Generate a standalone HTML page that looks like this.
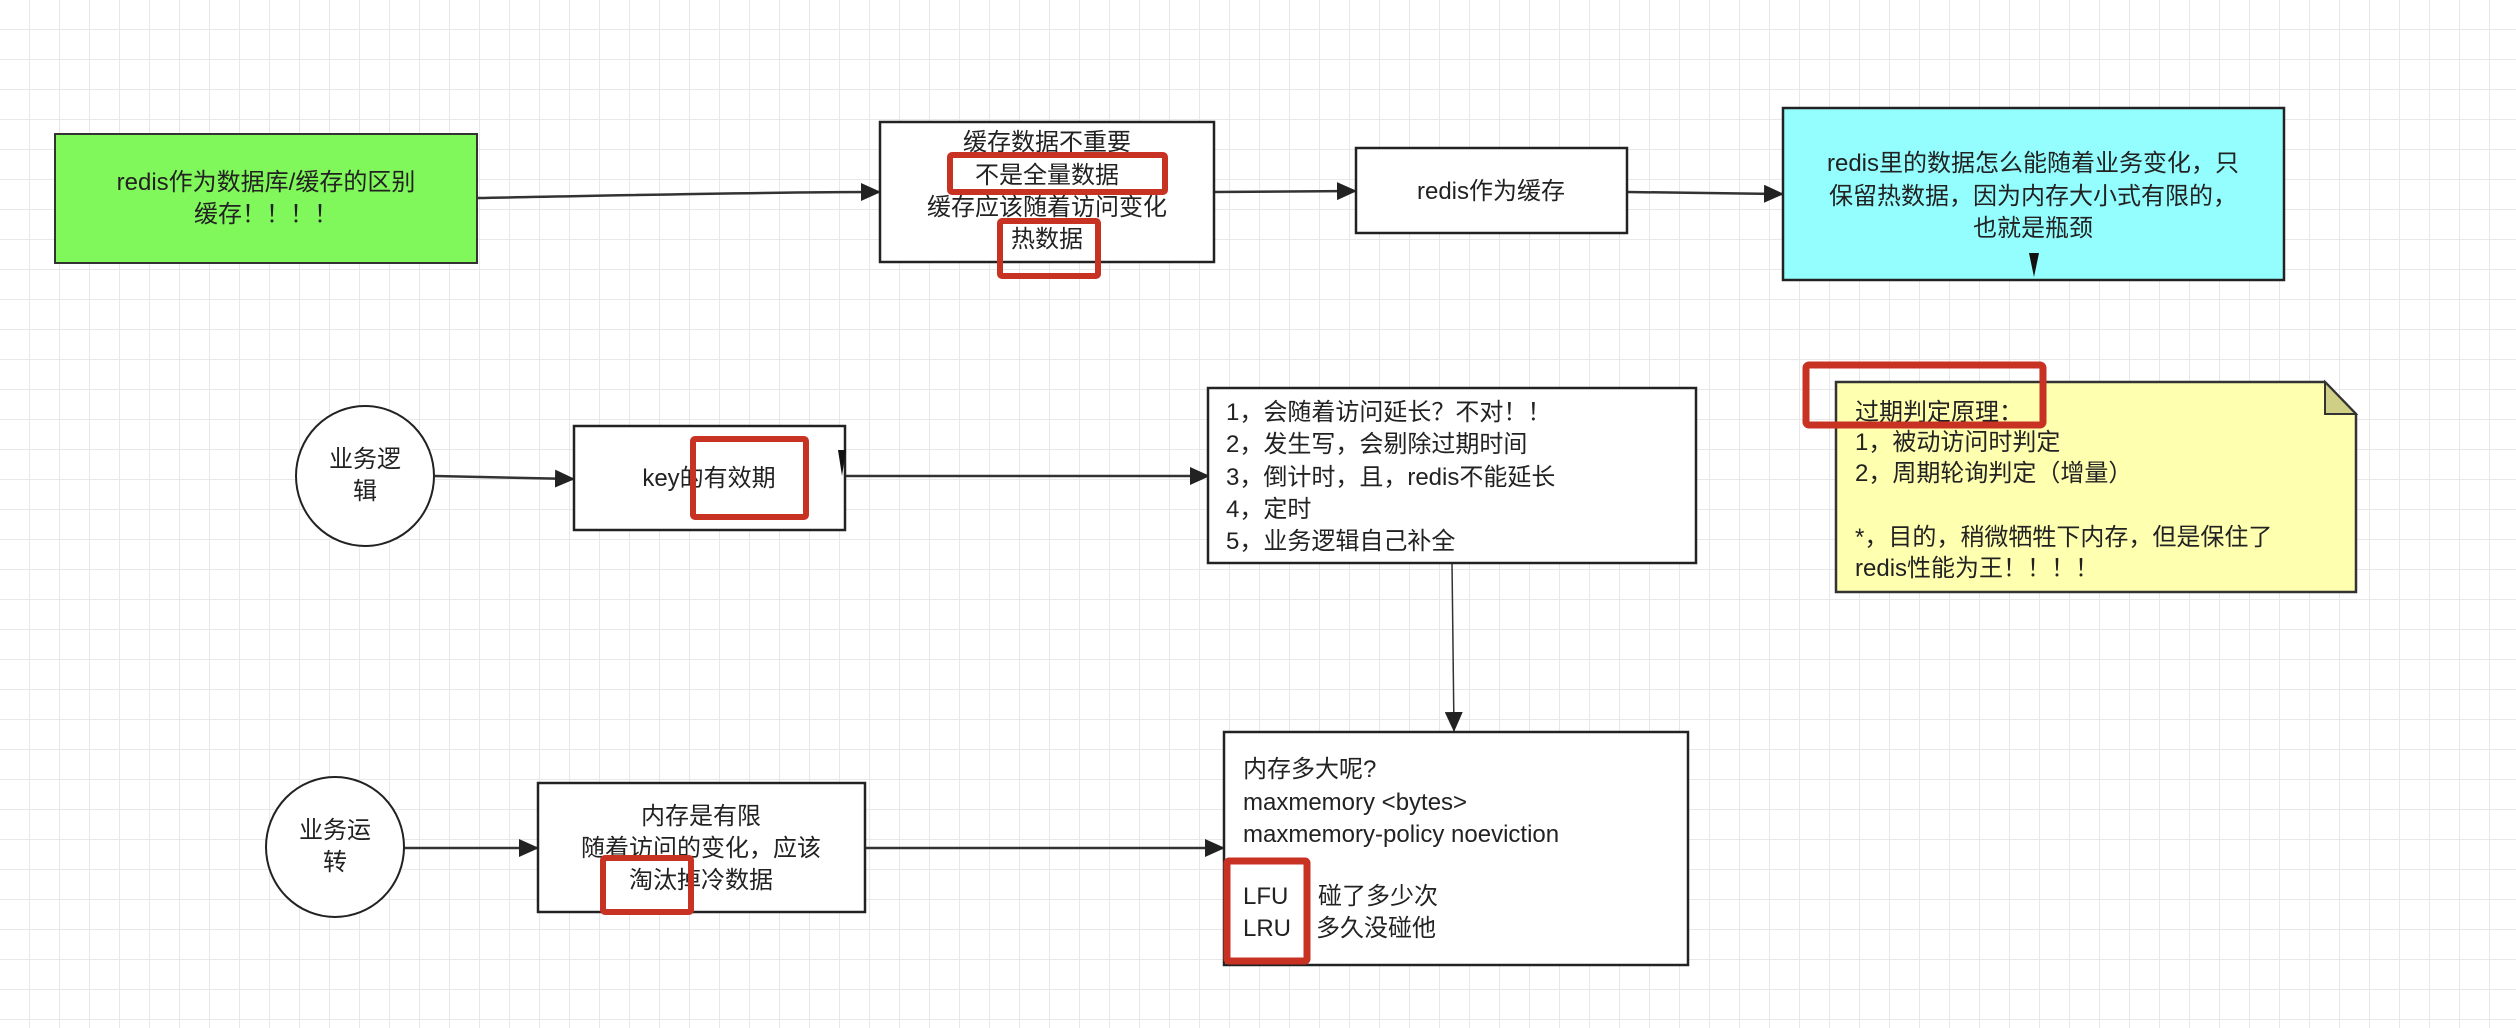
<!DOCTYPE html>
<html><head><meta charset="utf-8"><style>
html,body{margin:0;padding:0;background:#fff;}
svg{display:block;}
text{font-family:"Liberation Sans","Noto Sans CJK SC",sans-serif;font-size:24px;fill:#222;}
</style></head><body>
<svg width="2516" height="1028" viewBox="0 0 2516 1028" xmlns="http://www.w3.org/2000/svg">
<defs>
<pattern id="g" width="30" height="30" patternUnits="userSpaceOnUse">
<path d="M30 0V30M0 30H30" stroke="#e8e8e8" stroke-width="2" fill="none"/>
</pattern>
<marker id="a" markerWidth="20" markerHeight="18" refX="19" refY="9" orient="auto" markerUnits="userSpaceOnUse">
<path d="M0 0L20 9L0 18Z" fill="#222"/>
</marker>
<marker id="b" markerWidth="14" markerHeight="28" refX="13" refY="7" orient="auto" markerUnits="userSpaceOnUse">
<path d="M0 0L14 7L0 14Z" fill="#222"/>
</marker>
</defs>
<rect width="2516" height="1028" fill="url(#g)"/>
<g stroke="#333" stroke-width="2.5" fill="none">
<path d="M477 198 C600 196 750 192 880 192" marker-end="url(#a)"/>
<path d="M1214 192 L1356 191" marker-end="url(#a)"/>
<path d="M1627 192 L1783 194" marker-end="url(#a)"/>
<path d="M435 476 L574 479" marker-end="url(#a)"/>
<path d="M845 476 L1209 476" marker-end="url(#a)"/>
<path d="M1452 563 L1454 731" stroke-width="1.5" marker-end="url(#a)"/>
<path d="M404 848 L538 848" marker-end="url(#a)"/>
<path d="M865 848 L1224 848" marker-end="url(#a)"/>
</g>
<rect x="55" y="134" width="422" height="129" fill="#80f75a" stroke="#333" stroke-width="2"/>
<text x="266" y="190" text-anchor="middle">redis作为数据库/缓存的区别</text>
<text x="266" y="222" text-anchor="middle">缓存！！！！</text>
<rect x="880" y="122" width="334" height="140" fill="#fff" stroke="#222" stroke-width="2.5"/>
<text x="1047" y="150" text-anchor="middle">缓存数据不重要</text>
<text x="1047" y="183" text-anchor="middle">不是全量数据</text>
<text x="1047" y="215" text-anchor="middle">缓存应该随着访问变化</text>
<text x="1047" y="247" text-anchor="middle">热数据</text>
<rect x="950" y="155" width="215" height="37" fill="none" stroke="#c83223" stroke-width="6" rx="2"/>
<rect x="1000" y="221" width="98" height="55" fill="none" stroke="#c83223" stroke-width="6" rx="2"/>
<rect x="1356" y="148" width="271" height="85" fill="#fff" stroke="#222" stroke-width="2.5"/>
<text x="1491" y="199" text-anchor="middle">redis作为缓存</text>
<rect x="1783" y="108" width="501" height="172" fill="#94fdfd" stroke="#222" stroke-width="2.5"/>
<text x="2033" y="171" text-anchor="middle">redis里的数据怎么能随着业务变化，只</text>
<text x="2033" y="204" text-anchor="middle">保留热数据，因为内存大小式有限的，</text>
<text x="2033" y="236" text-anchor="middle">也就是瓶颈</text>
<path d="M2029 253 L2039 253 L2034 277Z" fill="#111"/>
<ellipse cx="365" cy="476" rx="69" ry="70" fill="#fff" stroke="#222" stroke-width="2"/>
<text x="365" y="467" text-anchor="middle">业务逻</text>
<text x="365" y="499" text-anchor="middle">辑</text>
<rect x="574" y="426" width="271" height="104" fill="#fff" stroke="#222" stroke-width="2.5"/>
<text x="709" y="486" text-anchor="middle">key的有效期</text>
<rect x="693" y="439" width="113" height="78" fill="none" stroke="#c83223" stroke-width="6" rx="2"/>
<path d="M838 450 L846 450 L842 476Z" fill="#111"/>
<rect x="1208" y="388" width="488" height="175" fill="#fff" stroke="#222" stroke-width="2.5"/>
<text x="1226" y="420">1，会随着访问延长？不对！！</text>
<text x="1226" y="452">2，发生写，会剔除过期时间</text>
<text x="1226" y="485">3，倒计时，且，redis不能延长</text>
<text x="1226" y="517">4，定时</text>
<text x="1226" y="549">5，业务逻辑自己补全</text>
<path d="M1836 382 L2325 382 L2356 414 L2356 592 L1836 592Z" fill="#ffffb0" stroke="#333" stroke-width="2.5"/>
<path d="M2325 382 L2325 414 L2356 414Z" fill="#cfcf85" stroke="#333" stroke-width="2"/>
<text x="1855" y="420">过期判定原理：</text>
<text x="1855" y="450">1，被动访问时判定</text>
<text x="1855" y="481">2，周期轮询判定（增量）</text>
<text x="1855" y="545">*，目的，稍微牺牲下内存，但是保住了</text>
<text x="1855" y="576">redis性能为王！！！！</text>
<rect x="1806" y="365" width="237" height="60" fill="none" stroke="#c83223" stroke-width="7" rx="3"/>
<ellipse cx="335" cy="847" rx="69" ry="70" fill="#fff" stroke="#222" stroke-width="2"/>
<text x="335" y="838" text-anchor="middle">业务运</text>
<text x="335" y="870" text-anchor="middle">转</text>
<rect x="538" y="783" width="327" height="129" fill="#fff" stroke="#222" stroke-width="2.5"/>
<text x="701" y="824" text-anchor="middle">内存是有限</text>
<text x="701" y="856" text-anchor="middle">随着访问的变化，应该</text>
<text x="701" y="888" text-anchor="middle">淘汰掉冷数据</text>
<rect x="603" y="858" width="88" height="54" fill="none" stroke="#c83223" stroke-width="6" rx="2"/>
<rect x="1224" y="732" width="464" height="233" fill="#fff" stroke="#222" stroke-width="2.5"/>
<text x="1243" y="777">内存多大呢?</text>
<text x="1243" y="810">maxmemory &lt;bytes&gt;</text>
<text x="1243" y="842">maxmemory-policy noeviction</text>
<text x="1243" y="904">LFU</text>
<text x="1318" y="904">碰了多少次</text>
<text x="1243" y="936">LRU</text>
<text x="1316" y="936">多久没碰他</text>
<rect x="1227" y="861" width="80" height="100" fill="none" stroke="#c83223" stroke-width="7" rx="2"/>
</svg>
</body></html>
